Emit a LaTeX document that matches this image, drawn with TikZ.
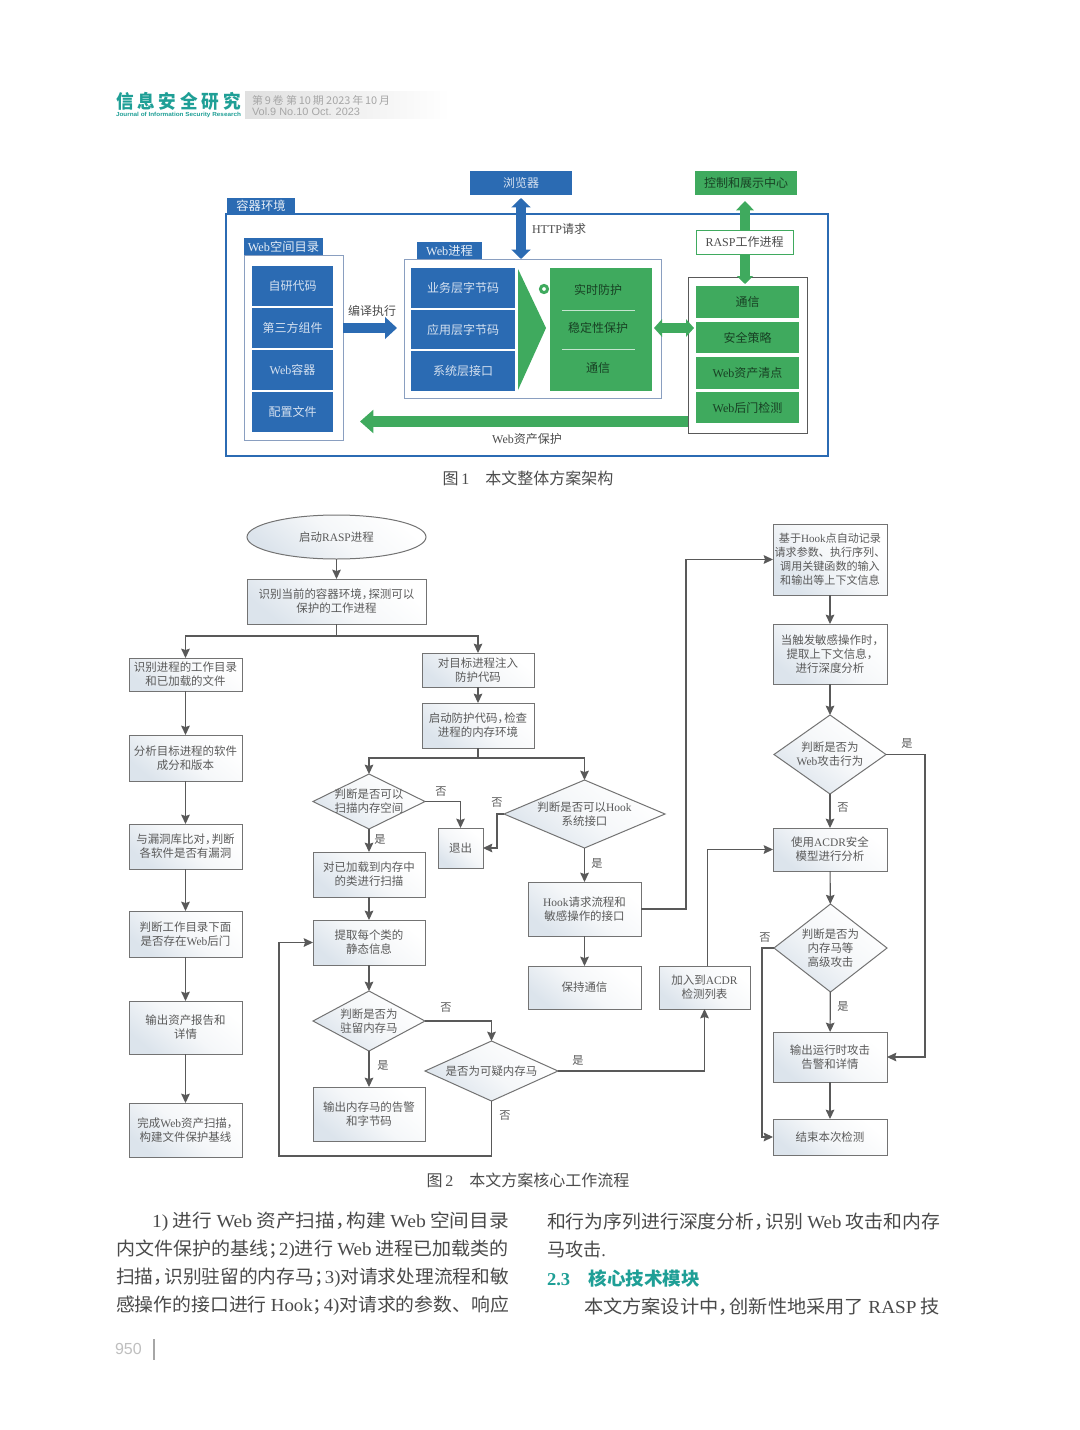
\documentclass[tikz,border=0pt]{standalone}
\usepackage{fontspec}
\usepackage{graphicx}
\usetikzlibrary{shapes.geometric,arrows.meta,calc}
\setmainfont{Noto Sans CJK SC}
\newfontfamily\latf{Liberation Serif}
\newfontfamily\sansf{Liberation Sans}
\newcommand\lat[1]{{\latf #1}}
\newcommand\cm{，\kern-.42em}
\newcommand\sm{；\kern-.42em}
\newcommand\fsz[2]{\fontsize{#1}{#2}\selectfont}
\definecolor{bluec}{HTML}{2B6BB3}
\definecolor{greenc}{HTML}{3FAA5E}
\definecolor{teal1}{HTML}{1F9F96}
\definecolor{flowtop}{HTML}{DCE4EC}
\definecolor{flowmid}{HTML}{F5F7F9}
\definecolor{flowtxt}{HTML}{5A5A5A}
\definecolor{bodytxt}{HTML}{4A4A4A}
\definecolor{frameblue}{HTML}{8A9FC0}
\tikzset{
 boxbase/.style={inner sep=0pt,outer sep=0pt,align=center},
 flowfill/.style={shade,top color=white,bottom color=flowtop,middle color=flowmid,shading angle=320},
 bluecell/.style={boxbase,fill=bluec,text=white!80!bluec,font=\fsz{9}{11}},
 greencell/.style={boxbase,fill=greenc,text=black!62!greenc,font=\fsz{9}{11}},
 tabcell/.style={boxbase,fill=bluec,text=white!88!bluec,font=\fsz{9.2}{11}},
 frameA/.style={boxbase,draw=frameblue,line width=.7pt,fill=white},
 frameOuter/.style={boxbase,draw=bluec,line width=2.1pt,fill=white},
 frameR/.style={boxbase,draw=black!65,line width=.65pt,fill=white},
 raspcell/.style={boxbase,draw=greenc,line width=.6pt,fill=white,text=black!70,font=\fsz{9}{11}},
 flowbox/.style={boxbase,draw=black!55,line width=.75pt,flowfill,text=flowtxt,font=\fsz{8.6}{10.5}},
 flowdia/.style={boxbase,diamond,draw=black!55,line width=.75pt,flowfill},
 flowell/.style={boxbase,ellipse,draw=black!55,line width=.75pt,flowfill,text=flowtxt,font=\fsz{8.6}{10.5}},
 flowtext/.style={boxbase,text=flowtxt,font=\fsz{8.6}{10.5}},
 flowline/.style={draw=black!65,line width=.85pt,-{Stealth[length=7pt,width=6.5pt,inset=1pt]}},
 lbl/.style={boxbase,text=flowtxt,font=\fsz{8.4}{10}},
 figlbl/.style={boxbase,text=black!70,font=\fsz{9}{11}},
 caption/.style={boxbase,text=black!70,font=\fsz{12}{14}},
 thickblue/.style={draw=bluec,line width=7.5pt},
 thickgreen/.style={draw=greenc,line width=7.5pt},
 bodyline/.style={boxbase,anchor=west,text=bodytxt,font=\fsz{13.8}{16}},
}
\newcommand\Bx[7]{%
 \pgfmathsetmacro\bxCx{(#3+#5)/2}\pgfmathsetmacro\bxCy{(#4+#6)/2}%
 \pgfmathsetmacro\bxW{(#5-#3)*0.75}\pgfmathsetmacro\bxH{(#6-#4)*0.75}%
 \node[#1,minimum width=\bxW pt,minimum height=\bxH pt] (#2) at (\bxCx,\bxCy) {#7};}
\newcommand\Dm[6]{%
 \pgfmathsetmacro\bxCx{(#2+#4)/2}\pgfmathsetmacro\bxCy{(#3+#5)/2}%
 \pgfmathsetmacro\bxW{(#4-#2)*0.75}\pgfmathsetmacro\bxH{(#5-#3)*0.75}%
 \node[flowdia,minimum width=\bxW pt,minimum height=\bxH pt] (#1) at (\bxCx,\bxCy) {};
 \node[flowtext] (#1t) at (#1.center) {#6};}
\newcommand\Ln[6][bodyline]{%
 \pgfmathsetmacro\bxW{(#4-#3)*0.75}%
 \node[#1] (#2) at (#3,#5) {\resizebox{\bxW pt}{\height}{#6}};}
\begin{document}
\begin{tikzpicture}[x=0.75pt,y=-0.75pt]
\useasboundingbox (0,0) rectangle (1080,1430);
\fill[white] (0,0) rectangle (1080,1430);

% ---------- page header
\Ln[boxbase,anchor=west,text=teal1,font=\fsz{14}{16}\bfseries]{headcn}{116}{241}{101}{信\kern.22em 息\kern.22em 安\kern.22em 全\kern.22em 研\kern.22em 究}
\Ln[boxbase,anchor=west,text=teal1,font=\fsz{4.4}{5}\sansf\bfseries]{headen}{116}{241}{114.5}{Journal of Information Security Research}
\Bx{boxbase,left color=black!12,right color=white}{band}{245}{92}{450}{119}{}
\Ln[boxbase,anchor=west,text=black!35,font=\fsz{8}{10}]{bandcn}{252}{390}{100}{第\,9\,卷\ 第\,10\,期\ 2023\,年\,10\,月}
\Ln[boxbase,anchor=west,text=black!35,font=\fsz{8}{10}\sansf]{banden}{252}{360}{111.5}{Vol.9 No.10 Oct. 2023}

% ---------- figure 1
\Bx{frameOuter}{outer}{226}{214}{828}{456}{}
\Bx{tabcell}{outertab}{227}{198}{295}{213}{容器环境}
\Bx{bluecell}{browser}{470}{171}{572}{195}{浏览器}
\Bx{greencell}{control}{695}{171}{797}{195}{控制和展示中心}

\Bx{frameA}{dirbox}{244}{255}{343}{440}{}
\Bx{tabcell}{dirtab}{244}{238}{323}{255}{\lat{Web}空间目录}
\Bx{bluecell}{c1}{252}{266}{333}{306}{自研代码}
\Bx{bluecell}{c2}{252}{308}{333}{348}{第三方组件}
\Bx{bluecell}{c3}{252}{350}{333}{390}{\lat{Web}容器}
\Bx{bluecell}{c4}{252}{392}{333}{432}{配置文件}

\Bx{frameA}{procbox}{404}{259}{661}{398}{}
\Bx{tabcell}{proctab}{417}{242}{482}{259}{\lat{Web}进程}
\Bx{bluecell}{p1}{411}{268}{515}{308}{业务层字节码}
\Bx{bluecell}{p2}{411}{310}{515}{349}{应用层字节码}
\Bx{bluecell}{p3}{411}{351}{515}{391}{系统层接口}
\fill[greenc] (518,269) -- (546,328) -- (518,390) -- cycle;
\draw[greenc,line width=2.2pt] (544,289) circle [radius=3.6];
\Bx{greencell}{guard}{550}{268}{652}{391}{}
\draw[white!70!greenc,line width=.6pt] (562,310) -- (635,310) (562,349) -- (635,349);
\node[boxbase,text=black!62!greenc,font=\fsz{9}{11}] (g1) at (598,290) {实时防护};
\node[boxbase,text=black!62!greenc,font=\fsz{9}{11}] (g2) at (598,328) {稳定性保护};
\node[boxbase,text=black!62!greenc,font=\fsz{9}{11}] (g3) at (598,368) {通信};

\Bx{frameR}{raspbox}{688}{277}{807}{433}{}
\Bx{greencell}{r1}{696}{286}{799}{318}{通信}
\Bx{greencell}{r2}{696}{322}{799}{353}{安全策略}
\Bx{greencell}{r3}{696}{357}{799}{389}{\lat{Web}资产清点}
\Bx{greencell}{r4}{696}{392}{799}{423}{\lat{Web}后门检测}
\Bx{raspcell}{raspproc}{696}{230}{793}{254}{\lat{RASP}工作进程}

\coordinate (aCompile) at (397,328);
\draw[thickblue,-{Triangle[length=9pt,width=16pt]}] (dirbox.east |- aCompile) -- (aCompile);
\coordinate (aHttpTop) at (521,198);
\coordinate (aHttpBot) at (521,259);
\draw[thickblue,{Triangle[length=7pt,width=14pt]}-{Triangle[length=7pt,width=14pt]}] (aHttpTop) -- (aHttpBot);
\coordinate (aUp) at (745,201);
\draw[thickgreen,-{Triangle[length=7pt,width=13pt]}] (raspproc.north -| aUp) -- (aUp);
\coordinate (aDown) at (745,284);
\draw[thickgreen,-{Triangle[length=6pt,width=12pt]}] (raspproc.south -| aDown) -- (aDown);
\coordinate (aLeft) at (654,328);
\coordinate (aRight) at (694,328);
\draw[thickgreen,{Triangle[length=6pt,width=13pt]}-{Triangle[length=6pt,width=13pt]}] (aLeft) -- (aRight);
\coordinate (aAsset) at (360,421.5);
\draw[thickgreen,line width=8pt,-{Triangle[length=10pt,width=17pt]}] (raspbox.west |- aAsset) -- (aAsset);

\node[figlbl] (lcompile) at (372,311) {编译执行};
\node[figlbl] (lhttp) at (559,229) {\lat{HTTP}请求};
\node[figlbl] (lasset) at (527,439) {\lat{Web}资产保护};
\node[caption] (cap1) at (528,478) {图\,\lat{1}\quad 本文整体方案架构};

% ---------- figure 2, left column
\Bx{flowell}{start}{247}{515}{426}{559}{启动\lat{RASP}进程}
\Bx{flowbox}{detect}{247}{579}{426}{624}{识别当前的容器环境\cm 探测可以\\保护的工作进程}
\Bx{flowbox}{scanwd}{129}{658}{242}{691}{识别进程的工作目录\\和已加载的文件}
\Bx{flowbox}{compos}{129}{735}{242}{781}{分析目标进程的软件\\成分和版本}
\Bx{flowbox}{vuln}{129}{824}{242}{869}{与漏洞库比对\cm 判断\\各软件是否有漏洞}
\Bx{flowbox}{backdoor}{129}{911}{242}{957}{判断工作目录下面\\是否存在\lat{Web}后门}
\Bx{flowbox}{report}{129}{1001}{242}{1054}{输出资产报告和\\详情}
\Bx{flowbox}{baseline}{129}{1103}{242}{1157}{完成\lat{Web}资产扫描\cm \\构建文件保护基线}

% middle column
\Bx{flowbox}{inject}{422}{653}{534}{687}{对目标进程注入\\防护代码}
\Bx{flowbox}{startp}{422}{703}{534}{748}{启动防护代码\cm 检查\\进程的内存环境}
\Dm{diaA}{313}{774}{425}{829}{判断是否可以\\扫描内存空间}
\Dm{diaB}{504}{780}{665}{848}{判断是否可以\lat{Hook}\\系统接口}
\Bx{flowbox}{exitb}{438}{828}{483}{868}{退出}
\Bx{flowbox}{scanclass}{313}{852}{425}{897}{对已加载到内存中\\的类进行扫描}
\Bx{flowbox}{extract}{313}{920}{425}{965}{提取每个类的\\静态信息}
\Dm{diaC}{313}{991}{425}{1051}{判断是否为\\驻留内存马}
\Bx{flowbox}{memalert}{313}{1087}{425}{1141}{输出内存马的告警\\和字节码}
\Dm{diaD}{425}{1041}{558}{1101}{是否为可疑内存马}
\Bx{flowbox}{hook}{528}{882}{641}{936}{\lat{Hook}请求流程和\\敏感操作的接口}
\Bx{flowbox}{keep}{528}{966}{641}{1009}{保持通信}
\Bx{flowbox}{list}{659}{966}{750}{1009}{加入到\lat{ACDR}\\检测列表}

% right column
\Bx{flowbox,font=\fsz{8.3}{10.5}}{record}{773}{524}{887}{595}{基于\lat{Hook}点自动记录\\请求参数、执行序列、\\调用关键函数的输入\\和输出等上下文信息}
\Bx{flowbox}{deep}{773}{624}{887}{684}{当触发敏感操作时\cm \\提取上下文信息\cm \\进行深度分析}
\Dm{diaE}{774}{715}{886}{794}{判断是否为\\\lat{Web}攻击行为}
\Bx{flowbox}{acdr}{773}{828}{887}{871}{使用\lat{ACDR}安全\\模型进行分析}
\Dm{diaF}{774}{904}{887}{992}{判断是否为\\内存马等\\高级攻击}
\Bx{flowbox}{alert}{773}{1032}{887}{1082}{输出运行时攻击\\告警和详情}
\Bx{flowbox}{endb}{773}{1119}{887}{1155}{结束本次检测}

% connectors
\draw[flowline] (start) -- (detect);
\draw[flowline] (detect.south) -- ++(0,12) -| (scanwd.north);
\draw[flowline] (detect.south) -- ++(0,12) -| (inject.north);
\draw[flowline] (scanwd) -- (compos);
\draw[flowline] (compos) -- (vuln);
\draw[flowline] (vuln) -- (backdoor);
\draw[flowline] (backdoor) -- (report);
\draw[flowline] (report) -- (baseline);
\draw[flowline] (inject) -- (startp);
\draw[flowline] (startp.south) -- ++(0,10) -| (diaA.north);
\draw[flowline] (startp.south) -- ++(0,10) -| (diaB.north);
\draw[flowline] (diaA.east) -| (exitb.north);
\draw[flowline] (diaB.west) -- ++(-7,0) |- (exitb.east);
\draw[flowline] (diaA) -- (scanclass);
\draw[flowline] (scanclass) -- (extract);
\draw[flowline] (extract) -- (diaC);
\draw[flowline] (diaC) -- (memalert);
\draw[flowline] (diaC.east) -| (diaD.north);
\draw[flowline] (diaD.east) -| (list.south);
\coordinate (loopc) at (279,1156);
\draw[flowline] (diaD.south) |- (loopc) |- (extract.west);
\draw[flowline] (diaB) -- (hook);
\draw[flowline] (hook) -- (keep);
\draw[flowline] (hook.east) -- ++(45,0) |- (record.west);
\draw[flowline] ([xshift=2pt]list.north) |- (acdr.west);
\draw[flowline] (record) -- (deep);
\draw[flowline] (deep) -- (diaE);
\draw[flowline] (diaE) -- (acdr);
\draw[flowline] (diaE.east) -- ++(39,0) |- (alert.east);
\draw[flowline] (acdr) -- (diaF);
\draw[flowline] (diaF) -- (alert);
\draw[flowline] (diaF.west) -- ++(-12,0) |- (endb.west);
\draw[flowline] (alert) -- (endb);

% branch labels
\node[lbl] (n1) at (441,792) {否};
\node[lbl] (n2) at (497,803) {否};
\node[lbl] (n3) at (380,839) {是};
\node[lbl] (n4) at (597,863) {是};
\node[lbl] (n5) at (446,1008) {否};
\node[lbl] (n6) at (383,1065) {是};
\node[lbl] (n7) at (578,1060) {是};
\node[lbl] (n8) at (505,1116) {否};
\node[lbl] (n9) at (907,743) {是};
\node[lbl] (n10) at (843,808) {否};
\node[lbl] (n11) at (765,938) {否};
\node[lbl] (n12) at (843,1006) {是};

\node[caption] (cap2) at (528,1180) {图\,\lat{2}\quad 本文方案核心工作流程};

% ---------- body text
\Ln{b1}{152}{509}{1222}{\lat{1)} 进行 \lat{Web} 资产扫描\cm 构建 \lat{Web} 空间目录}
\Ln{b2}{116}{509}{1250}{内文件保护的基线\sm\lat{2)}进行 \lat{Web} 进程已加载类的}
\Ln{b3}{116}{509}{1278}{扫描\cm 识别驻留的内存马\sm\lat{3)}对请求处理流程和敏}
\Ln{b4}{116}{509}{1306}{感操作的接口进行 \lat{Hook}\sm\lat{4)}对请求的参数、响应}
\Ln{b5}{547}{940}{1222}{和行为序列进行深度分析\cm 识别 \lat{Web} 攻击和内存}
\Ln{b6}{547}{606}{1250}{马攻击\lat{.}}
\Ln[boxbase,anchor=west,text=teal1,font=\fsz{13.6}{16}\bfseries]{b7}{547}{700}{1279}{\lat{2.3}\quad 核心技术模块}
\Ln{b8}{584}{940}{1307}{本文方案设计中\cm 创新性地采用了 \lat{RASP} 技}

% ---------- page number
\node[boxbase,anchor=west,text=black!25,font=\fsz{12}{14}\sansf] (pageno) at (115,1349) {950};
\coordinate (barT) at (154,1339);
\coordinate (barB) at (154,1360);
\draw[black!35,line width=.9pt] (barT) -- (barB);
\end{tikzpicture}
\end{document}
